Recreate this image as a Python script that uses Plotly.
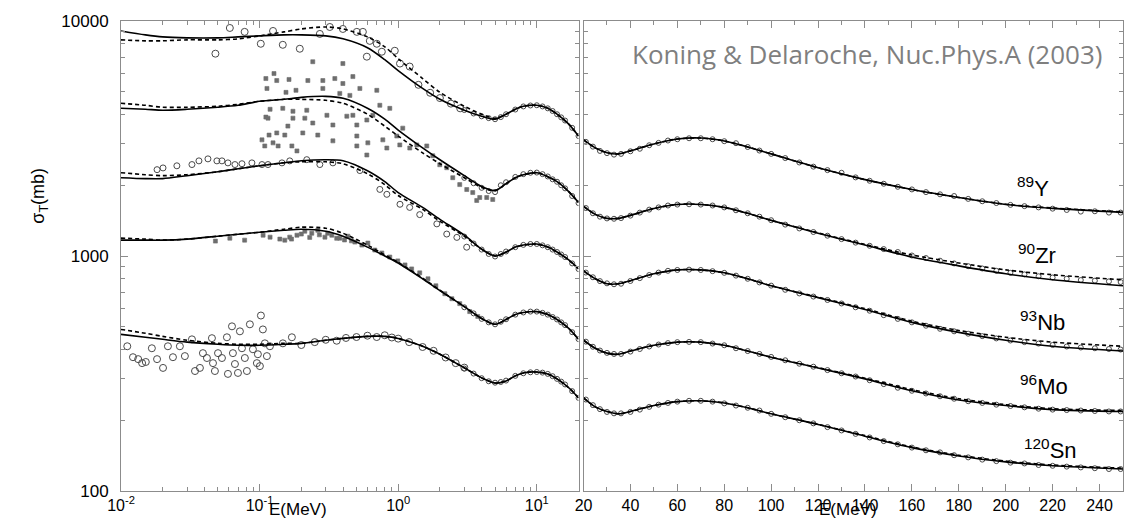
import math
import plotly.graph_objects as go

# ---------------- curve energy grids (MeV) ----------------
E_left = [0.01, 0.015, 0.02, 0.03, 0.05, 0.07, 0.1, 0.15, 0.2, 0.3, 0.4, 0.6, 0.8, 1.0,
          1.5, 2, 3, 4, 5, 6, 7, 8, 10, 12, 14, 17, 20]
E_right = [20, 25, 30, 35, 40, 50, 60, 70, 80, 90, 100, 120, 140, 160, 180, 200, 220, 250]

nuclei = ["<sup>89</sup>Y", "<sup>90</sup>Zr", "<sup>93</sup>Nb", "<sup>96</sup>Mo", "<sup>120</sup>Sn"]

# ---------------- model curves, sigma_T (mb, offset for display) ----------------
Y89_solid_L = [9074, 8730, 8560, 8480, 8480, 8560, 8645, 8730, 8730, 8645, 8396, 7692, 6845, 6152,
               5165, 4642, 4172, 3935, 3822, 4012, 4211, 4336, 4379, 4253, 4012, 3641, 3239]
Y89_dash_L = [8313, 8234, 8234, 8313, 8313, 8396, 8645, 8987, 9252, 9434, 9252, 8560, 7766, 6913,
              5691, 4969, 4336, 4012, 3859, 4012, 4211, 4336, 4379, 4253, 4012, 3641, 3239]
Zr90_solid_L = [4253, 4211, 4172, 4211, 4295, 4379, 4552, 4642, 4733, 4778, 4688, 4253, 3822, 3435,
                2884, 2567, 2197, 1974, 1898, 2032, 2154, 2218, 2262, 2176, 2073, 1880, 1690]
Zr90_dash_L = [4465, 4379, 4295, 4295, 4336, 4421, 4552, 4642, 4642, 4597, 4465, 4012, 3571, 3239,
               2747, 2469, 2154, 1955, 1898, 2032, 2154, 2218, 2262, 2176, 2073, 1880, 1690]
Nb93_solid_L = [2154, 2134, 2134, 2197, 2283, 2351, 2421, 2492, 2542, 2567, 2542, 2306, 2073, 1862,
                1610, 1432, 1226, 1070, 1000, 1040, 1091, 1113, 1124, 1091, 1040, 962, 881]
Nb93_dash_L = [2262, 2218, 2197, 2218, 2283, 2351, 2421, 2492, 2517, 2517, 2470, 2240, 2013, 1809,
               1579, 1405, 1214, 1070, 1000, 1040, 1091, 1113, 1124, 1091, 1040, 962, 881]
Mo96_solid_L = [1168, 1168, 1168, 1180, 1214, 1238, 1262, 1287, 1300, 1275, 1214, 1091, 1000, 934,
                800, 712, 609, 542, 512, 537, 564, 575, 580, 564, 537, 492, 442]
Mo96_dash_L = [1191, 1180, 1168, 1180, 1214, 1238, 1262, 1300, 1326, 1313, 1250, 1113, 1010, 940,
               805, 715, 609, 542, 512, 537, 564, 575, 580, 564, 537, 492, 442]
Sn120_solid_L = [464, 451, 442, 430, 421, 417, 417, 421, 425, 438, 446, 455, 455, 446,
                 413, 382, 334, 303, 288, 294, 309, 318, 321, 315, 300, 275, 249]
Sn120_dash_L = [487, 469, 455, 438, 425, 421, 421, 425, 425, 438, 446, 455, 455, 446,
                413, 382, 334, 303, 288, 294, 309, 318, 321, 315, 300, 275, 249]

Y89_solid_R = [3117, 2884, 2749, 2720, 2801, 2999, 3147, 3177, 3087, 2912, 2720, 2374, 2113, 1918, 1774, 1657, 1594, 1534]
Y89_dash_R = [3117, 2884, 2749, 2720, 2801, 2999, 3147, 3177, 3087, 2912, 2720, 2374, 2113, 1918, 1774, 1660, 1600, 1540]
Zr90_solid_R = [1626, 1504, 1446, 1446, 1489, 1594, 1657, 1657, 1610, 1519, 1418, 1250, 1113, 990, 908, 840, 792, 747]
Zr90_dash_R = [1626, 1504, 1446, 1446, 1489, 1594, 1657, 1657, 1610, 1519, 1418, 1255, 1120, 1010, 934, 873, 832, 792]
Nb93_solid_R = [864, 800, 762, 762, 785, 840, 873, 873, 848, 800, 747, 665, 592, 522, 473, 438, 413, 394]
Nb93_dash_R = [864, 800, 762, 762, 785, 840, 873, 873, 848, 800, 747, 668, 597, 528, 482, 451, 430, 413]
Mo96_solid_R = [438, 405, 386, 382, 394, 417, 430, 430, 417, 394, 371, 334, 300, 267, 244, 231, 222, 218]
Mo96_dash_R = [438, 405, 386, 382, 394, 417, 430, 430, 417, 394, 371, 335, 302, 270, 247, 233, 224, 220]
Sn120_solid_R = [249, 228, 218, 213, 218, 231, 240, 242, 237, 226, 213, 192, 171, 153, 141, 133, 128, 124]
Sn120_dash_R = [249, 228, 218, 213, 218, 231, 240, 242, 237, 226, 213, 192, 172, 154, 142, 134, 129, 125]

# ---------------- experimental data ----------------
exp_E_L = [3, 3.5, 4, 4.5, 5, 5.5, 6, 7, 8, 9, 10, 11, 12, 13, 14, 15, 16, 18, 20]
Y89_exp_L = [4180, 4040, 3930, 3860, 3820, 3900, 4010, 4200, 4330, 4370, 4380, 4330, 4250, 4140, 4010, 3890, 3770, 3510, 3240]
Zr90_exp_L = [2150, 2040, 1950, 1890, 1870, 2000, 2060, 2170, 2230, 2260, 2265, 2230, 2180, 2120, 2070, 2000, 1940, 1800, 1680]
Nb93_exp_L = [1210, 1130, 1065, 1020, 995, 1020, 1045, 1090, 1115, 1125, 1125, 1110, 1090, 1065, 1040, 1015, 990, 930, 880]
Mo96_exp_L = [605, 570, 540, 522, 512, 525, 538, 563, 575, 580, 580, 573, 563, 550, 537, 522, 508, 474, 443]
Sn120_exp_L = [332, 316, 302, 293, 289, 291, 295, 309, 317, 320, 321, 319, 315, 308, 300, 292, 284, 266, 249]

exp_E_R = [21, 24, 27, 30, 33, 36, 40, 44, 48, 52, 56, 60, 65, 70, 75, 80, 85, 90, 95, 100,
           106, 112, 118, 124, 130, 136, 142, 148, 154, 160, 166, 172, 178, 184, 190, 196, 202, 208,
           214, 220, 226, 232, 238, 244, 249]
Y89_exp_R = [3060, 2920, 2800, 2740, 2700, 2720, 2790, 2860, 2960, 3030, 3100, 3140, 3170, 3170, 3140,
             3080, 3020, 2910, 2810, 2720, 2610, 2500, 2400, 2320, 2260, 2160, 2090, 2030, 1970, 1920,
             1870, 1830, 1800, 1750, 1710, 1680, 1650, 1630, 1610, 1590, 1570, 1545, 1550, 1530, 1530]
Zr90_exp_R = [1600, 1520, 1470, 1445, 1440, 1450, 1485, 1530, 1575, 1610, 1640, 1655, 1660, 1655, 1640,
              1610, 1565, 1520, 1470, 1420, 1360, 1310, 1265, 1220, 1180, 1140, 1105, 1070, 1040, 1005,
              980, 955, 930, 905, 885, 865, 848, 835, 820, 810, 800, 790, 785, 780, 775]
Nb93_exp_R = [850, 812, 782, 765, 758, 762, 783, 805, 830, 850, 865, 872, 875, 872, 862,
              848, 825, 800, 772, 748, 718, 693, 672, 650, 628, 605, 585, 560, 540, 522,
              505, 490, 478, 467, 456, 446, 437, 430, 424, 418, 412, 408, 405, 402, 400]
Mo96_exp_R = [432, 411, 396, 387, 383, 383, 392, 402, 412, 420, 426, 430, 431, 430, 424,
              417, 405, 394, 383, 372, 360, 348, 338, 327, 317, 307, 296, 285, 275, 267,
              260, 253, 247, 241, 237, 233, 230, 227, 224, 222, 221, 220, 219, 218, 218]
Sn120_exp_R = [245, 232, 223, 217, 214, 214, 217, 222, 228, 233, 237, 240, 242, 242, 240,
               236, 231, 226, 220, 213, 206, 200, 194, 187, 181, 175, 169, 163, 158, 153,
               149, 146, 142, 139, 136, 134, 132, 131, 129, 128, 127, 126, 125, 124, 124]

Y89_lowE = [0.048, 0.061, 0.078, 0.102, 0.125, 0.147, 0.195, 0.272, 0.321, 0.399, 0.503, 0.556,
            0.594, 0.624, 0.701, 0.762, 0.945, 1.03, 1.21, 1.4, 1.7, 2.0, 2.4, 2.8]
Y89_lowS = [7260, 9340, 8990, 8000, 9070, 7920, 7620, 8810, 9430, 9250, 8990, 8990,
            7050, 8230, 8000, 7400, 7470, 6590, 6400, 5350, 4950, 4700, 4450, 4250]

Zr90_lowE = [0.111, 0.127, 0.133, 0.163, 0.113, 0.155, 0.183, 0.119, 0.111, 0.115, 0.147, 0.174,
             0.104, 0.117, 0.133, 0.152, 0.160, 0.174, 0.109, 0.125, 0.136, 0.171, 0.186,
             0.242, 0.399, 0.223, 0.286, 0.349, 0.399, 0.471, 0.701, 0.286, 0.379, 0.448, 0.529,
             0.219, 0.306, 0.426, 0.471, 0.737, 0.870, 0.212, 0.242, 0.338, 0.503, 0.594, 0.656,
             0.205, 0.263, 0.338, 0.503, 0.604, 0.775, 0.977, 1.079, 0.503, 0.594, 0.828, 1.027,
             1.212, 1.362, 1.608, 1.776, 1.995, 2.241, 2.476, 2.780, 3.124, 3.451, 3.875, 4.353,
             4.810, 3.686]
Zr90_lowS = [5690, 5975, 5580, 5640, 5165, 4970, 5070, 4210, 3900, 3860, 4250, 4130,
             3120, 3270, 3340, 3270, 3570, 3860, 2940, 3030, 2940, 2940, 2800,
             6710, 6590, 5580, 5580, 5690, 5420, 5800, 5070, 5165, 4920, 4825, 5165,
             4170, 3970, 3935, 3970, 4380, 4250, 3860, 3680, 3610, 3610, 3790, 3970,
             3340, 3270, 3090, 3240, 3030, 3120, 3240, 3500, 2940, 2690, 2880, 2970,
             2880, 2970, 2940, 2670, 2445, 2375, 2154, 2013, 1918, 1862, 1774, 1774,
             1740, 1723]

Nb93_lowE = [0.0182, 0.0201, 0.0253, 0.0325, 0.0365, 0.0424, 0.0492, 0.0535, 0.0591, 0.0664,
             0.0746, 0.088, 0.104, 0.115, 0.145, 0.165, 0.219, 0.272, 0.338, 0.529,
             0.737, 0.828, 1.03, 1.21, 1.43, 1.90, 2.24, 2.65, 3.12]
Nb93_lowS = [2330, 2370, 2420, 2450, 2540, 2590, 2540, 2540, 2490, 2450,
             2470, 2490, 2450, 2450, 2490, 2540, 2570, 2450, 2490, 2310,
             1920, 1830, 1660, 1610, 1500, 1370, 1240, 1200, 1090]

Mo96_lowE = [0.048, 0.061, 0.078, 0.106, 0.119, 0.140, 0.152, 0.165, 0.186, 0.212,
             0.238, 0.263, 0.296, 0.332, 0.379, 0.433, 0.487, 0.547, 0.604, 0.678,
             0.762, 0.870, 0.993, 1.12, 1.25, 1.43, 1.64, 1.87, 2.17, 2.44,
             2.78, 3.28, 3.75, 0.17, 0.2, 0.23, 0.27, 0.31, 0.36, 0.41, 0.46]
Mo96_lowS = [1157, 1191, 1168, 1226, 1203, 1180, 1168, 1203, 1226, 1275,
             1250, 1287, 1203, 1226, 1191, 1214, 1146, 1113, 1135, 1060,
             1030, 990, 953, 916, 881, 848, 800, 747, 691, 658,
             627, 580, 553, 1180, 1240, 1200, 1230, 1250, 1190, 1170, 1160]

Sn120_lowE = [0.0111, 0.0122, 0.0133, 0.0142, 0.0151, 0.0167, 0.0182, 0.0201, 0.0218, 0.0237,
              0.0266, 0.0289, 0.0325, 0.0342, 0.0371, 0.0390, 0.0417, 0.0453, 0.0461, 0.0476,
              0.0501, 0.0535, 0.0581, 0.0591, 0.0632, 0.0642, 0.0664, 0.0698, 0.0721, 0.0746,
              0.0783, 0.0810, 0.0851, 0.0895, 0.0956, 0.0972, 0.1005, 0.1022, 0.1056, 0.1092,
              0.1129, 0.1187, 0.1472, 0.1710,
              0.2, 0.25, 0.3, 0.36, 0.42, 0.5, 0.6, 0.7, 0.8, 0.9, 1.0, 1.2, 1.5, 1.8, 2.2, 2.6, 3.0]
Sn120_lowS = [413, 371, 364, 350, 354, 405, 364, 334, 413, 371,
              413, 375, 442, 324, 334, 386, 368, 447, 350, 324,
              386, 368, 451, 315, 502, 386, 347, 318, 478, 405,
              368, 324, 512, 401, 350, 382, 340, 558, 487, 425,
              375, 413, 425, 451,
              418, 430, 440, 436, 448, 452, 458, 452, 460, 450, 445, 430, 410, 395, 370, 350, 335]

# ---------------- figure ----------------
fig = go.Figure()
MK = "#4a4a4a"


def scatter(x, y, xa, ya, symbol, size, color=MK, lw=1.0):
    fig.add_trace(go.Scatter(x=x, y=y, xaxis=xa, yaxis=ya, mode="markers",
                             marker=dict(symbol=symbol, size=size, color=color,
                                         line=dict(width=lw, color=color)),
                             hoverinfo="skip"))


scatter(Y89_lowE, Y89_lowS, "x", "y", "circle-open", 7)
scatter(Zr90_lowE, Zr90_lowS, "x", "y", "square", 4, "#6e6e6e", 0.6)
scatter(Nb93_lowE, Nb93_lowS, "x", "y", "circle-open", 6)
scatter(Mo96_lowE, Mo96_lowS, "x", "y", "square", 4, "#6e6e6e", 0.6)
scatter(Sn120_lowE, Sn120_lowS, "x", "y", "circle-open", 7)

for ys in [Y89_exp_L, Zr90_exp_L, Nb93_exp_L, Mo96_exp_L, Sn120_exp_L]:
    scatter(exp_E_L, ys, "x", "y", "circle-open", 5)
for ys in [Y89_exp_R, Zr90_exp_R, Nb93_exp_R, Mo96_exp_R, Sn120_exp_R]:
    scatter(exp_E_R, ys, "x2", "y2", "circle-open", 5)


def curve(x, y, xa, ya, dash):
    fig.add_trace(go.Scatter(x=x, y=y, xaxis=xa, yaxis=ya, mode="lines",
                             line=dict(color="black", width=1.6, dash=dash, shape="spline",
                                       smoothing=0.8),
                             hoverinfo="skip"))


for ys in [Y89_solid_L, Zr90_solid_L, Nb93_solid_L, Mo96_solid_L, Sn120_solid_L]:
    curve(E_left, ys, "x", "y", "solid")
for ys in [Y89_dash_L, Zr90_dash_L, Nb93_dash_L, Mo96_dash_L, Sn120_dash_L]:
    curve(E_left, ys, "x", "y", "4px,3px")
for ys in [Y89_solid_R, Zr90_solid_R, Nb93_solid_R, Mo96_solid_R, Sn120_solid_R]:
    curve(E_right, ys, "x2", "y2", "solid")
for ys in [Y89_dash_R, Zr90_dash_R, Nb93_dash_R, Mo96_dash_R, Sn120_dash_R]:
    curve(E_right, ys, "x2", "y2", "4px,3px")

# ---------------- axes ----------------
FRAME = "#8c8c8c"
FONT = "Liberation Sans, Arial, sans-serif"
base = dict(showline=True, linecolor=FRAME, linewidth=1, mirror="ticks", ticks="inside",
            tickcolor=FRAME, ticklen=7, tickwidth=1, showgrid=False, zeroline=False)
xfont = dict(family=FONT, size=16, color="black")
yfont = dict(family=FONT, size=17, color="black")

left_minor = [m * 10 ** d for d in (-2, -1, 0) for m in range(2, 10)]
y_minor = [m * 10 ** d for d in (2, 3) for m in range(2, 10)]

# the page body adds an 8 px margin, so the figure is 8 px smaller than the window
fig.update_layout(
    width=1131, height=511,
    margin=dict(l=113, r=16, t=4, b=28),
    plot_bgcolor="white", paper_bgcolor="white",
    showlegend=False,
    font=dict(family=FONT, color="black"),
    xaxis=dict(type="log", range=[-2, math.log10(20)], domain=[0, 0.4566], anchor="y",
               tickmode="array", tickvals=[0.01, 0.1, 1, 10],
               ticktext=["10<sup>-2</sup>", "10<sup>-1</sup>", "10<sup>0</sup>", "10<sup>1</sup>"],
               tickfont=xfont, ticklabeloverflow="allow",
               minor=dict(tickmode="array", tickvals=left_minor, ticks="inside", ticklen=4,
                          tickcolor=FRAME),
               **base),
    xaxis2=dict(type="linear", range=[20, 250], domain=[0.4616, 1], anchor="y2",
                tickmode="array", tickvals=list(range(20, 250, 20)), tickfont=xfont,
                ticklabeloverflow="allow",
                minor=dict(tickmode="array", tickvals=list(range(30, 251, 20)), ticks="inside",
                           ticklen=4, tickcolor=FRAME),
                **base),
    yaxis=dict(type="log", range=[2, 4], anchor="x", domain=[0, 1],
               tickmode="array", tickvals=[100, 1000, 10000], ticktext=["100", "1000", "10000"],
               ticklabelstandoff=8, tickfont=yfont, ticklabeloverflow="allow",
               minor=dict(tickmode="array", tickvals=y_minor, ticks="inside", ticklen=4,
                          tickcolor=FRAME),
               **base),
    yaxis2=dict(type="log", range=[2, 4], anchor="x2", domain=[0, 1], matches="y",
                showticklabels=False, tickmode="array", tickvals=[100, 1000, 10000],
                minor=dict(tickmode="array", tickvals=y_minor, ticks="inside", ticklen=4,
                           tickcolor=FRAME),
                **base),
)

# ---------------- text ----------------
ann = []
ann.append(dict(text="Koning &amp; Delaroche, Nuc.Phys.A (2003)", x=0.7445, y=0.929,
                xref="paper", yref="paper", showarrow=False, xanchor="center", yanchor="middle",
                font=dict(family="Open Sans, Lato, sans-serif", size=26, color="#7f7f7f")))
label_pos = [(0.8922, 0.6472), (0.8932, 0.5052), (0.8952, 0.3612), (0.8952, 0.2255), (0.8992, 0.0898)]
for name, (lx, ly) in zip(nuclei, label_pos):
    ann.append(dict(text=name, x=lx, y=ly, xref="paper", yref="paper", showarrow=False,
                    xanchor="left", yanchor="middle",
                    font=dict(family=FONT, size=22, color="black")))
for tx in (0.1766, 0.7255):
    ann.append(dict(text="E(MeV)", x=tx, y=-0.039, xref="paper", yref="paper", showarrow=False,
                    xanchor="center", yanchor="middle",
                    font=dict(family=FONT, size=17, color="black")))
ann.append(dict(text="σ<sub>T</sub>(mb)", x=-0.0808, y=0.6284, xref="paper", yref="paper",
                showarrow=False, textangle=-90, xanchor="center", yanchor="middle",
                font=dict(family=FONT, size=18, color="black")))
fig.update_layout(annotations=ann)

fig.write_html("out.html")
